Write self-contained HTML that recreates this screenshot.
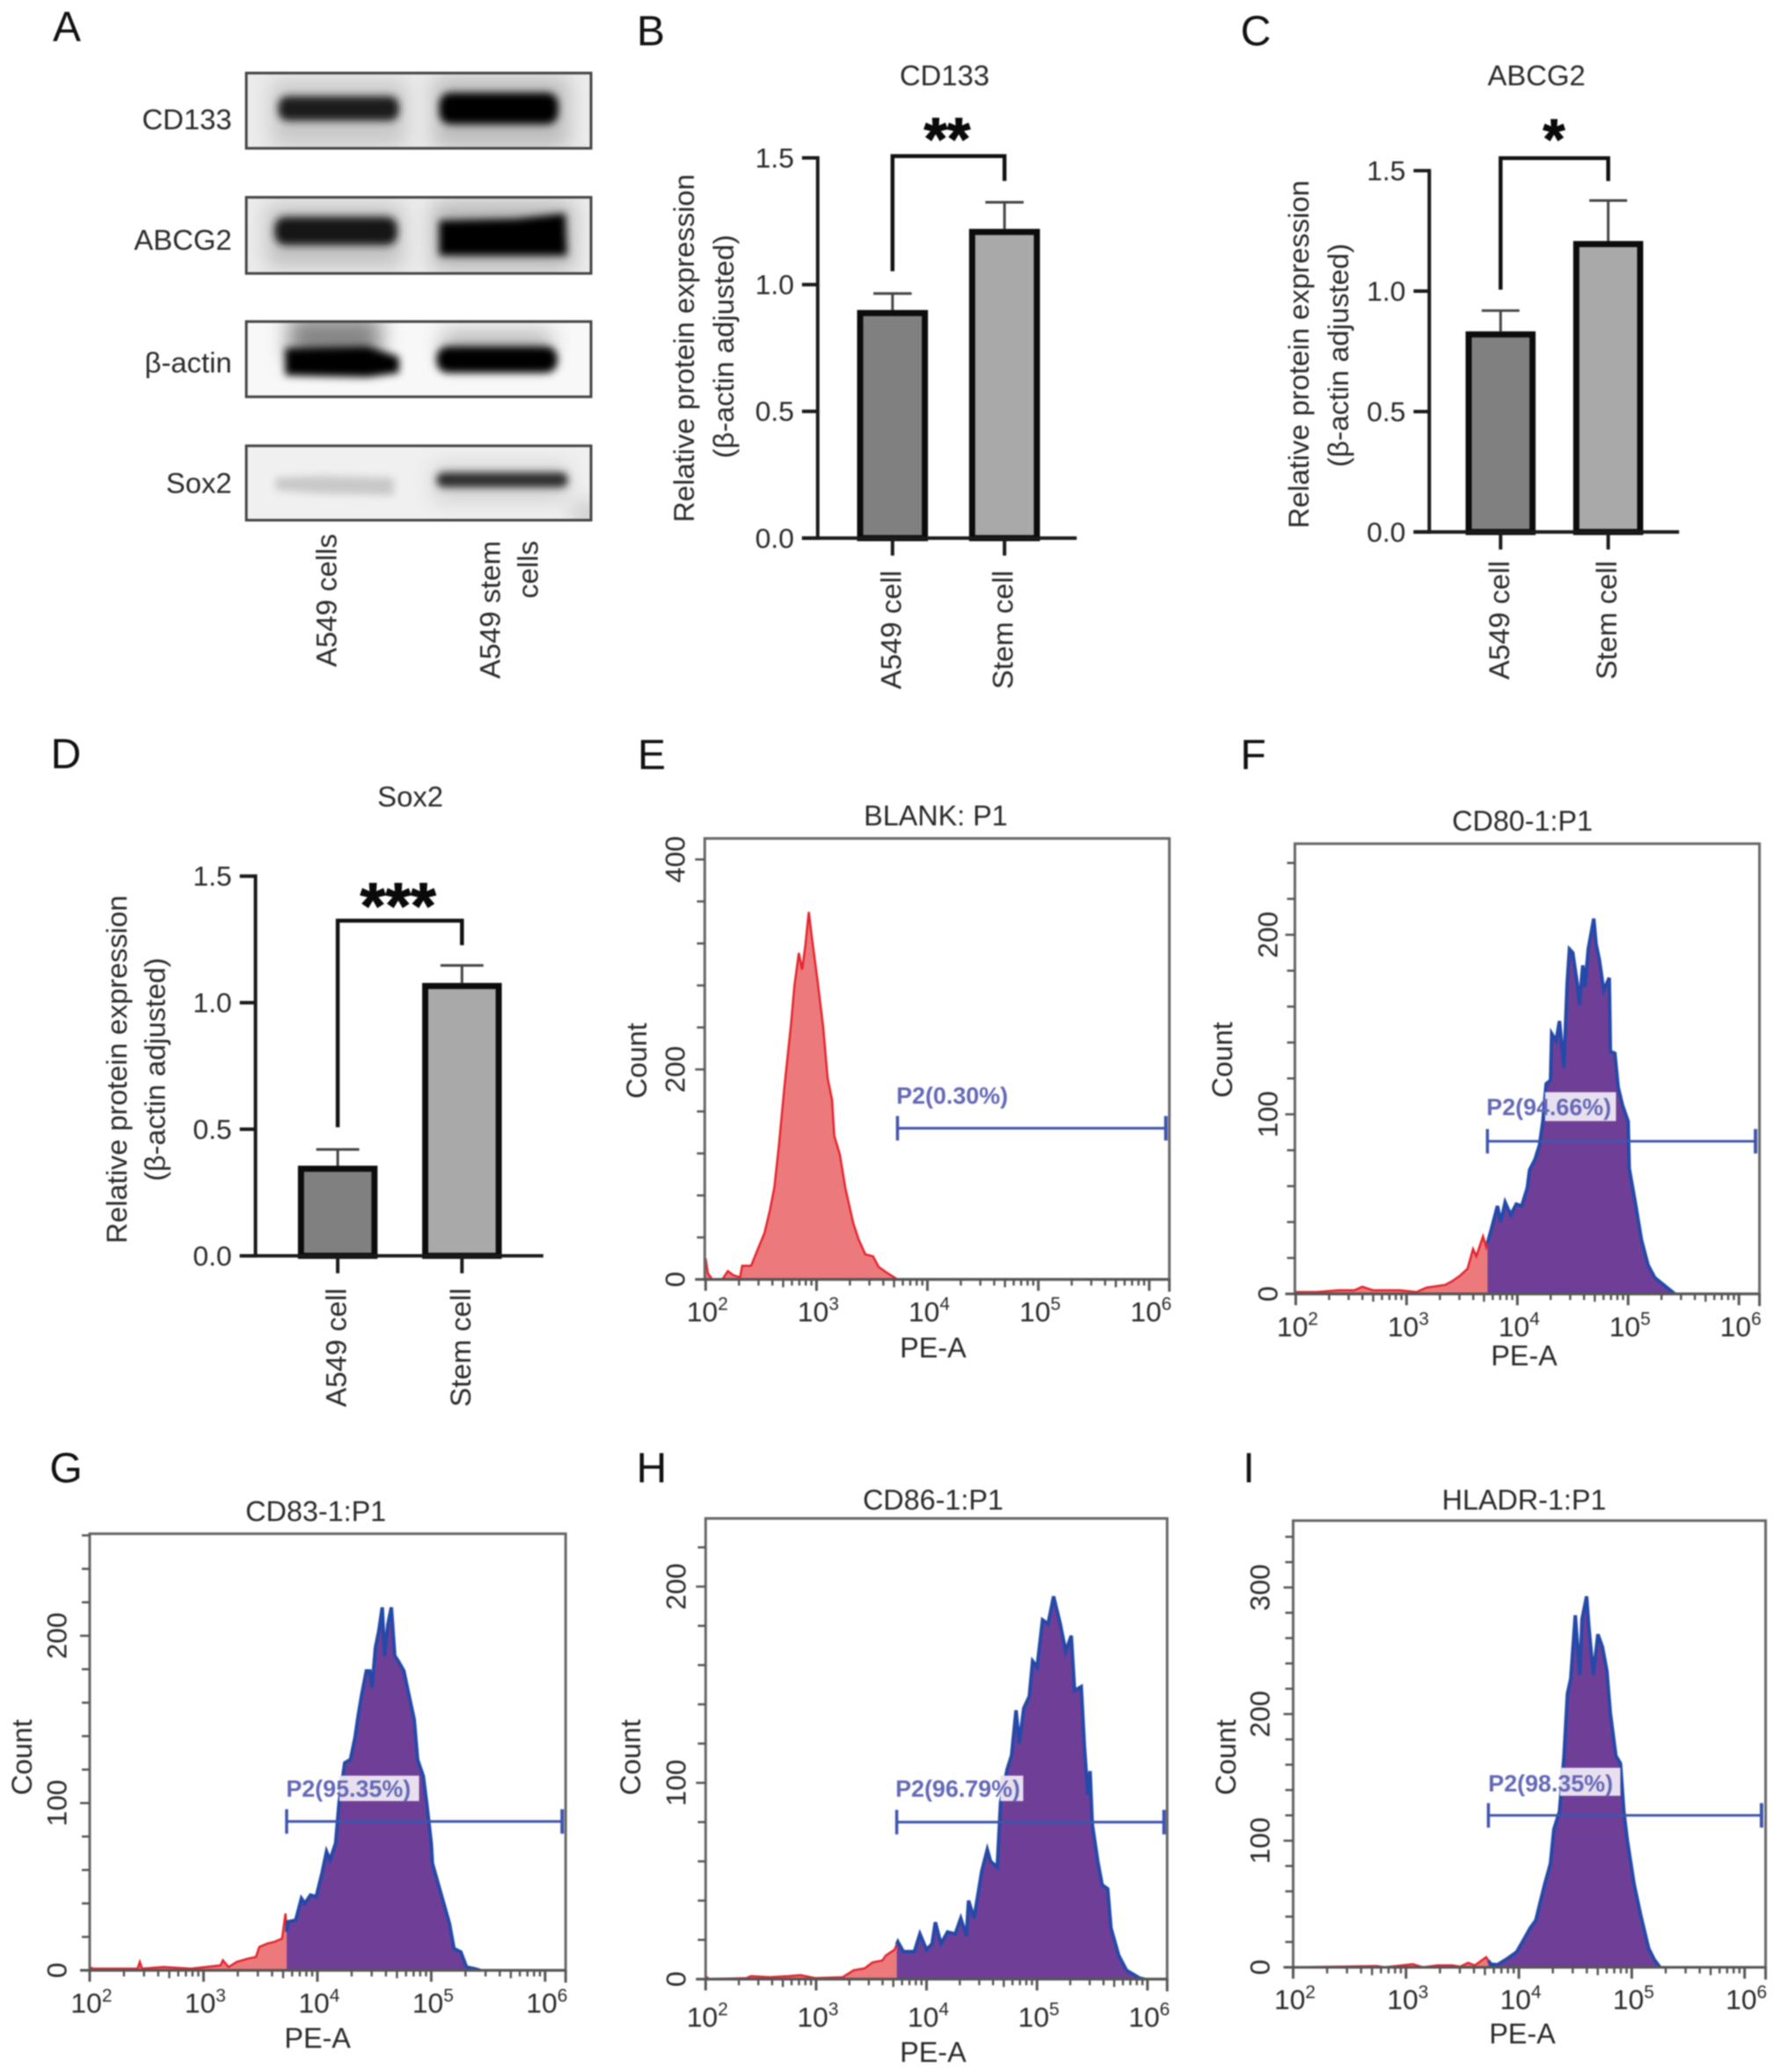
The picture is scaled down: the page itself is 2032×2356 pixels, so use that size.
<!DOCTYPE html>
<html lang="en">
<head>
<meta charset="utf-8">
<title>A549 stem cell marker figure</title>
<style>
html,body{margin:0;padding:0;background:#fff;}
#figure{display:block;filter:blur(0.8px);font-family:"Liberation Sans",sans-serif;fill:#222;}
.letter{font-size:48px;fill:#111;text-anchor:middle;dominant-baseline:central;}
.lab{font-size:33px;fill:#2a2a2a;dominant-baseline:central;}
.mid{text-anchor:middle;}
.end{text-anchor:end;}
.gate-text{font-size:27px;font-weight:bold;fill:#6468b6;dominant-baseline:central;}
.star{font-weight:bold;fill:#0a0a0a;stroke:#0a0a0a;stroke-width:1.2px;text-anchor:middle;}
</style>
</head>
<body>
<svg id="figure" xmlns="http://www.w3.org/2000/svg" width="2032" height="2356" viewBox="0 0 2032 2356">
<defs>
<filter id="b3" x="-40%" y="-150%" width="180%" height="400%"><feGaussianBlur stdDeviation="4.5"/></filter>
<filter id="b12" x="-50%" y="-150%" width="200%" height="400%"><feGaussianBlur stdDeviation="12"/></filter>
<clipPath id="c1"><rect x="281" y="83" width="395" height="87"/></clipPath>
<clipPath id="c2"><rect x="281" y="225" width="395" height="88"/></clipPath>
<clipPath id="c3"><rect x="281" y="367" width="395" height="87"/></clipPath>
<clipPath id="c4"><rect x="281" y="509" width="395" height="86"/></clipPath>
</defs>
<rect width="2032" height="2356" fill="#fff"/>

<g>
<text class="letter" x="76" y="31">A</text>
<text class="letter" x="740" y="36">B</text>
<text class="letter" x="1428" y="36">C</text>
<text class="letter" x="75" y="858">D</text>
<text class="letter" x="741" y="859">E</text>
<text class="letter" x="1425" y="859">F</text>
<text class="letter" x="75" y="1670">G</text>
<text class="letter" x="741" y="1670">H</text>
<text class="letter" x="1420" y="1670">I</text>
</g>

<g transform="scale(0.9949)">
<text class="lab end" x="265" y="136">CD133</text>
<text class="lab end" x="265" y="274">ABCG2</text>
<text class="lab end" x="265" y="414">β-actin</text>
<text class="lab end" x="265" y="552">Sox2</text>

<g>
<rect x="281" y="83" width="395" height="87" fill="#ececec"/>
<g clip-path="url(#c1)">
<rect x="310" y="92" width="155" height="76" fill="#c8c8c8" filter="url(#b12)"/>
<rect x="495" y="88" width="155" height="82" fill="#bcbcbc" filter="url(#b12)"/>
<rect x="318" y="110" width="138" height="28" rx="11" fill="#1c1c1c" filter="url(#b3)"/>
<rect x="502" y="106" width="136" height="36" rx="13" fill="#050505" filter="url(#b3)"/>
</g>
<rect x="281.5" y="83.5" width="394" height="86" fill="none" stroke="#444" stroke-width="3"/>
</g>

<g>
<rect x="281" y="225" width="395" height="88" fill="#ececec"/>
<g clip-path="url(#c2)">
<rect x="305" y="235" width="155" height="70" fill="#c0c0c0" filter="url(#b12)"/>
<rect x="495" y="232" width="160" height="76" fill="#b4b4b4" filter="url(#b12)"/>
<rect x="314" y="248" width="140" height="32" rx="12" fill="#181818" filter="url(#b3)"/>
<path d="M502 252 L590 250 L646 244 L648 292 L502 292 Z" fill="#030303" filter="url(#b3)"/>
</g>
<rect x="281.5" y="225.5" width="394" height="87" fill="none" stroke="#444" stroke-width="3"/>
</g>

<g>
<rect x="281" y="367" width="395" height="87" fill="#f8f8f8"/>
<g clip-path="url(#c3)">
<rect x="330" y="362" width="105" height="50" fill="#858585" filter="url(#b12)"/>
<rect x="505" y="378" width="125" height="34" fill="#b8b8b8" filter="url(#b12)"/>
<path d="M326 398 L420 396 L456 408 L456 426 L420 431 L326 429 Z" fill="#030303" filter="url(#b3)"/>
<rect x="499" y="396" width="138" height="30" rx="13" fill="#050505" filter="url(#b3)"/>
</g>
<rect x="281.5" y="367.5" width="394" height="86" fill="none" stroke="#444" stroke-width="3"/>
</g>

<g>
<rect x="281" y="509" width="395" height="86" fill="#f0f0f0"/>
<g clip-path="url(#c4)">
<path d="M315 546 L365 544 L450 546 L450 566 L365 564 L315 560 Z" fill="#c8c8c8" filter="url(#b3)"/>
<rect x="495" y="530" width="155" height="44" fill="#d4d4d4" filter="url(#b12)"/>
<rect x="499" y="540" width="150" height="17" rx="8" fill="#2a2a2a" filter="url(#b3)"/>
<rect x="655" y="575" width="30" height="26" fill="#c4c4c4" filter="url(#b12)"/>
</g>
<rect x="281.5" y="509.5" width="394" height="85" fill="none" stroke="#444" stroke-width="3"/>
</g>

<text class="lab end" transform="rotate(-90 373 610)" x="373" y="610">A549 cells</text>
<text class="lab end" transform="rotate(-90 560 618)" x="560" y="618">A549 stem</text>
<text class="lab end" transform="rotate(-90 603 618)" x="603" y="618">cells</text>
</g>

<g transform="translate(700 0) scale(0.9949) translate(-700 0)">
<text class="lab mid" x="1076" y="86">CD133</text>
<text class="lab mid" transform="rotate(-90 778 398)" x="778" y="398">Relative protein expression</text>
<text class="lab mid" transform="rotate(-90 823 396)" x="823" y="396">(β-actin adjusted)</text>
<text class="star" style="font-size:68px" x="1079" y="182">**</text>
</g>
<g transform="translate(1380 0) scale(0.9949) translate(-1380 0)">
<text class="lab mid" x="1749" y="86">ABCG2</text>
<text class="lab mid" transform="rotate(-90 1477 405)" x="1477" y="405">Relative protein expression</text>
<text class="lab mid" transform="rotate(-90 1522 406)" x="1522" y="406">(β-actin adjusted)</text>
<text class="star" style="font-size:64px" x="1769" y="181">*</text>
</g>
<g transform="translate(0 830) scale(0.9949) translate(0 -830)">
<text class="lab mid" x="469" y="906">Sox2</text>
<text class="lab mid" transform="rotate(-90 133 1218)" x="133" y="1218">Relative protein expression</text>
<text class="lab mid" transform="rotate(-90 177 1218)" x="177" y="1218">(β-actin adjusted)</text>
<text class="star" style="font-size:74px" x="455" y="1056">***</text>
</g>

<g id="bar-layer"></g>
<g id="flow-layer"></g>

<g transform="translate(680 830) scale(0.9949) translate(-680 -830)">
<text class="lab mid" style="font-size:32.5px" x="1066" y="928">BLANK: P1</text>
<text class="lab mid" style="font-size:32.5px" x="1063" y="1536">PE-A</text>
<text class="lab mid" style="font-size:32.5px" transform="rotate(-90 724 1208)" x="724" y="1208">Count</text>
<text class="gate-text" x="1021" y="1248">P2(0.30%)</text>
</g>
<g transform="translate(1360 830) scale(0.9949) translate(-1360 -830)">
<text class="lab mid" style="font-size:32.5px" x="1733" y="934">CD80-1:P1</text>
<text class="lab mid" style="font-size:32.5px" x="1735" y="1545">PE-A</text>
<text class="lab mid" style="font-size:32.5px" transform="rotate(-90 1390 1207)" x="1390" y="1207">Count</text>
<rect x="1759" y="1244" width="81" height="33" fill="#e8e0ee"/>
<text class="gate-text" x="1692" y="1261">P2(94.66%)</text>
</g>
<g transform="translate(0 1640) scale(0.9949) translate(0 -1640)">
<text class="lab mid" style="font-size:32.5px" x="361" y="1719">CD83-1:P1</text>
<text class="lab mid" style="font-size:32.5px" x="363" y="2321">PE-A</text>
<text class="lab mid" style="font-size:32.5px" transform="rotate(-90 25 2000)" x="25" y="2000">Count</text>
<rect x="388" y="2021" width="91" height="29" fill="#e8e0ee"/>
<text class="gate-text" x="327" y="2036">P2(95.35%)</text>
</g>
<g transform="translate(680 1640) scale(0.9949) translate(-680 -1640)">
<text class="lab mid" style="font-size:32.5px" x="1063" y="1706">CD86-1:P1</text>
<text class="lab mid" style="font-size:32.5px" x="1063" y="2337">PE-A</text>
<text class="lab mid" style="font-size:32.5px" transform="rotate(-90 717 2000)" x="717" y="2000">Count</text>
<rect x="1140" y="2021" width="26" height="29" fill="#e8e0ee"/>
<text class="gate-text" x="1020" y="2036">P2(96.79%)</text>
</g>
<g transform="translate(1360 1640) scale(0.9949) translate(-1360 -1640)">
<text class="lab mid" style="font-size:32.5px" x="1735" y="1706">HLADR-1:P1</text>
<text class="lab mid" style="font-size:32.5px" x="1733" y="2316">PE-A</text>
<text class="lab mid" style="font-size:32.5px" transform="rotate(-90 1394 2000)" x="1394" y="2000">Count</text>
<rect x="1776" y="2012" width="69" height="32" fill="#e8e0ee"/>
<text class="gate-text" x="1694" y="2030">P2(98.35%)</text>
</g>
</svg>

<script>
// ---- bar chart data ----
const barCategories = ['A549 cell', 'Stem cell'];
const barTickValues = [0, 0.5, 1, 1.5];
const barTickLabels = ['0.0', '0.5', '1.0', '1.5'];
const cd133Means = [0.90, 1.22];
const cd133Errors = [0.065, 0.105];
const cd133Bracket = [1.507, 1.053, 1.409];
const abcg2Means = [0.833, 1.208];
const abcg2Errors = [0.086, 0.168];
const abcg2Bracket = [1.552, 1.006, 1.457];
const sox2Means = [0.356, 1.078];
const sox2Errors = [0.064, 0.069];
const sox2Bracket = [1.324, 0.508, 1.227];

// ---- flow histogram data (log10 PE-A, count) ----
const xDecades = [2, 3, 4, 5, 6];
const gateStartLog = 3.73;
const gateEndLog = 6.15;

const eLog = [2.00,2.02,2.06,2.15,2.20,2.25,2.31,2.33,2.41,2.46,2.53,2.58,2.62,2.66,2.71,2.77,2.80,2.84,2.87,2.90,2.93,2.96,3.01,3.06,3.10,3.14,3.16,3.21,3.26,3.33,3.38,3.44,3.51,3.56,3.64,3.73];
const eCount = [20,6,0,0,8,4,2,13,13,26,44,66,88,127,183,243,279,311,295,319,350,324,284,240,192,171,137,119,87,54,38,24,22,12,6,0];
const eYTicks = [0, 200, 400];
const eGateCount = 144;

const fLog = [2.00,2.19,2.39,2.53,2.60,2.70,2.94,3.09,3.18,3.35,3.41,3.48,3.55,3.60,3.63,3.69,3.72,3.77,3.82,3.85,3.89,3.94,3.99,4.04,4.09,4.11,4.16,4.20,4.23,4.26,4.30,4.31,4.35,4.38,4.42,4.45,4.47,4.50,4.54,4.56,4.59,4.61,4.64,4.69,4.71,4.74,4.78,4.83,4.84,4.88,4.91,4.95,5.00,5.01,5.07,5.12,5.18,5.24,5.32,5.42];
const fCount = [1,1,2,2,4,2,2,1,3.5,5,7,10,14,25,21,32,26,37,49,40,51,44,50,49,59,69,75,83,96,117,119,145,141,152,126,173,192,190,173,161,183,171,192,209,195,186,169,176,135,134,115,105,96,70,49,30,16,9,5,0];
const fYTicks = [0, 100, 200];
const fGateCount = 85;

const gLog = [2.00,2.03,2.22,2.42,2.44,2.46,2.65,2.89,3.02,3.15,3.17,3.22,3.29,3.39,3.46,3.49,3.56,3.62,3.69,3.72,3.73,3.74,3.81,3.86,3.89,3.94,3.99,4.04,4.08,4.11,4.16,4.19,4.24,4.29,4.33,4.36,4.39,4.43,4.46,4.48,4.51,4.54,4.57,4.59,4.62,4.65,4.68,4.71,4.76,4.80,4.85,4.88,4.93,4.96,5.00,5.01,5.06,5.11,5.16,5.20,5.26,5.31,5.38,5.43];
const gCount = [2,1,1,1,5,1,2,1,2,3,6,2,5,7,8,14,16,17,19,34,23,29,30,43,40,45,44,58,71,66,76,100,124,126,139,153,165,179,179,169,193,203,217,188,207,217,188,185,179,166,150,126,116,100,76,64,52,40,28,13,11,2,1,0];
const gYTicks = [0, 100, 200];
const gGateCount = 89;

const hLog = [2.00,2.03,2.37,2.41,2.58,2.75,2.86,2.99,3.24,3.34,3.44,3.51,3.60,3.63,3.71,3.74,3.79,3.89,3.94,4.00,4.05,4.08,4.13,4.19,4.26,4.31,4.36,4.38,4.43,4.50,4.55,4.58,4.64,4.67,4.73,4.77,4.81,4.84,4.88,4.93,4.96,5.00,5.05,5.10,5.15,5.21,5.26,5.31,5.34,5.40,5.43,5.46,5.48,5.50,5.55,5.59,5.64,5.67,5.74,5.81,5.93,5.97];
const hCount = [1.5,0,0.5,1.5,1,1.5,2,0.5,1,4.5,5.5,8.5,9.5,12,15,19,14,14,23,15,18,29,18,24,23,31,22,40,31,55,66,60,57,90,107,114,137,120,138,144,162,159,183,181,195,181,167,175,147,149,118,94,106,79,60,48,46,26,12,4.5,0.5,0];
const hYTicks = [0, 100, 200];
const hGateCount = 80;

const iLog = [2.00,2.74,2.81,3.06,3.15,3.28,3.41,3.48,3.55,3.61,3.71,3.75,3.81,3.90,3.98,4.05,4.10,4.15,4.18,4.23,4.28,4.31,4.36,4.40,4.43,4.46,4.50,4.52,4.54,4.56,4.60,4.62,4.66,4.70,4.74,4.78,4.81,4.86,4.90,4.93,4.96,5.02,5.08,5.15,5.20,5.25];
const iCount = [0,1,0,2.5,0,1.5,1.5,0.5,3.5,1.5,8,2.5,2,7,12,23,31,37,48,66,82,109,123,167,216,228,278,253,231,275,293,269,231,263,253,234,201,167,161,123,101,66,41,15,6,0];
const iYTicks = [0, 100, 200, 300];
const iGateCount = 120;

// ---- helpers ----
const NS = 'http://www.w3.org/2000/svg';
const panelScale = 0.9949;
function make(tag, attrs, parent) {
  const n = document.createElementNS(NS, tag);
  for (const k in attrs) n.setAttribute(k, attrs[k]);
  parent.appendChild(n);
  return n;
}
function panelTransform(ox, oy) {
  return 'translate(' + ox + ' ' + oy + ') scale(' + panelScale + ') translate(' + (-ox) + ' ' + (-oy) + ')';
}

// ---- bar charts ----
const barLayer = document.getElementById('bar-layer');
function drawBarChart(g) {
  const y = v => g.y0 - v * g.perUnit;
  const root = make('g', {transform: panelTransform(g.ox, g.oy)}, barLayer);
  
  
  const colors = ['#808080', '#a9a9a9'];

  g.means.forEach((m, i) => {
    const cx = g.centers[i];
    const top = y(m);
    const errTop = y(m + g.errors[i]);
    const bar = make('rect', {x: cx - g.barWidth / 2 + 3.5, y: top + 3.5, width: g.barWidth - 7, height: g.y0 - top - 3.5, fill: colors[i], stroke: '#0c0c0c', 'stroke-width': 7}, root);
    
    
    const stem = make('line', {x1: cx, x2: cx, y1: top, y2: errTop, stroke: '#444', 'stroke-width': 3}, root);
    
    
    const cap = make('line', {x1: cx - g.barWidth * 0.27, x2: cx + g.barWidth * 0.27, y1: errTop, y2: errTop, stroke: '#444', 'stroke-width': 3}, root);
    
    
    const tick = make('line', {x1: cx, x2: cx, y1: g.y0, y2: g.y0 + 20, stroke: '#1a1a1a', 'stroke-width': 4}, root);
    
    
    const lx = cx - 2;
    const lab = make('text', {x: lx, y: g.labelTop, transform: 'rotate(-90 ' + lx + ' ' + g.labelTop + ')', class: 'lab end'}, root);
    lab.textContent = barCategories[i];
    
    
  });

  const yAxis = make('line', {x1: g.axisX, x2: g.axisX, y1: y(1.5) - 2, y2: g.y0 + 2, stroke: '#1a1a1a', 'stroke-width': 4}, root);
  
  
  const xAxis = make('line', {x1: g.axisX - 18, x2: g.axisEnd, y1: g.y0, y2: g.y0, stroke: '#1a1a1a', 'stroke-width': 4}, root);
  
  

  barTickValues.forEach((v, i) => {
    const t = make('line', {x1: g.axisX - 18, x2: g.axisX, y1: y(v), y2: y(v), stroke: '#1a1a1a', 'stroke-width': 4}, root);
    
    
    const l = make('text', {x: g.axisX - 27, y: y(v), class: 'lab end', style: 'font-size:32px'}, root);
    l.textContent = barTickLabels[i];
    
    
  });

  const b = g.bracket;
  const path = make('path', {d: 'M' + g.centers[0] + ' ' + y(b[1]) + 'V' + y(b[0]) + 'H' + g.centers[1] + 'V' + y(b[2]), fill: 'none', stroke: '#111', 'stroke-width': 4.5}, root);
  
  
}
drawBarChart({ox: 700, oy: 0, means: cd133Means, errors: cd133Errors, bracket: cd133Bracket, axisX: 931, axisEnd: 1227, y0: 615, perUnit: 289.7, centers: [1016.5, 1144.5], barWidth: 81, labelTop: 652});
drawBarChart({ox: 1380, oy: 0, means: abcg2Means, errors: abcg2Errors, bracket: abcg2Bracket, axisX: 1626.5, axisEnd: 1912, y0: 608, perUnit: 275.3, centers: [1708, 1831], barWidth: 80, labelTop: 641});
drawBarChart({ox: 0, oy: 830, means: sox2Means, errors: sox2Errors, bracket: sox2Bracket, axisX: 292, axisEnd: 621, y0: 1431, perUnit: 289.3, centers: [386, 528], barWidth: 91, labelTop: 1468});

// ---- flow histograms ----
const flowLayer = document.getElementById('flow-layer');
function interpolate(xs, ys, x) {
  for (let i = 1; i < xs.length; i++) {
    if (xs[i] >= x) {
      const t = (x - xs[i - 1]) / (xs[i] - xs[i - 1]);
      return ys[i - 1] + t * (ys[i] - ys[i - 1]);
    }
  }
  return 0;
}
function drawFlow(g) {
  const x = v => g.x2 + (v - 2) * (g.x6 - g.x2) / 4;
  const y = c => g.y0 - c * g.perCount;
  const root = make('g', {transform: panelTransform(g.ox, g.oy)}, flowLayer);
  
  

  const lastLog = g.logs[g.logs.length - 1];
  const redPts = [];
  const bluePts = [];
  g.logs.forEach((l, i) => {
    if (l <= gateStartLog) redPts.push([x(l), y(g.counts[i])]);
    if (l >= gateStartLog) bluePts.push([x(l), y(g.counts[i])]);
  });
  if (lastLog > gateStartLog) {
    const c = interpolate(g.logs, g.counts, gateStartLog);
    redPts.push([x(gateStartLog), y(c)]);
    bluePts.unshift([x(gateStartLog), y(c)]);
  }
  const line = p => p.map(q => q[0].toFixed(1) + ',' + q[1].toFixed(1)).join(' ');
  const redBase = [[redPts[0][0], g.y0]].concat(redPts, [[redPts[redPts.length - 1][0], g.y0]]);
  const redFill = make('polygon', {points: line(redBase), fill: '#ec7a7c'}, root);
  
  
  const redLine = make('polyline', {points: line(redPts), fill: 'none', stroke: '#e5242c', 'stroke-width': 2.5}, root);
  
  
  if (bluePts.length > 1) {
    const blueBase = [[bluePts[0][0], g.y0]].concat(bluePts, [[bluePts[bluePts.length - 1][0], g.y0]]);
    const blueFill = make('polygon', {points: line(blueBase), fill: '#6f3f97'}, root);
    
    
    const blueLine = make('polyline', {points: line(bluePts), fill: 'none', stroke: '#2449a8', 'stroke-width': 4}, root);
    
    
  }

  const box = make('rect', {x: g.left, y: g.top, width: g.right - g.left, height: g.y0 - g.top, fill: 'none', stroke: '#666', 'stroke-width': 3}, root);
  
  

  // y ticks
  const step = 20 * g.minorEvery;
  for (let c = 0; y(c) >= g.top - 1; c += step) {
    const major = g.yTicks.includes(c);
    const t = make('line', {x1: g.left - (major ? 11 : 9), x2: g.left, y1: y(c), y2: y(c), stroke: '#555', 'stroke-width': 2.5}, root);
    
    
  }
  g.yTicks.forEach(c => {
    const l = make('text', {x: g.yLabelX, y: y(c), transform: 'rotate(-90 ' + g.yLabelX + ' ' + y(c) + ')', class: 'lab mid', style: 'font-size:32px'}, root);
    l.textContent = String(c);
    
    
  });

  // x ticks
  for (let d = 2; d < 6; d++) {
    for (let m = 1; m < 10; m++) {
      const lv = d + Math.log10(m);
      const t = make('line', {x1: x(lv), x2: x(lv), y1: g.y0, y2: g.y0 + (m === 1 ? 13 : (m === 5 ? 9 : 7)), stroke: '#555', 'stroke-width': m === 1 ? 3 : 2.5}, root);
      
      
    }
  }
  const endTick = make('line', {x1: g.right, x2: g.right, y1: g.y0, y2: g.y0 + 14, stroke: '#555', 'stroke-width': 3}, root);
  
  
  const sixTick = make('line', {x1: x(6), x2: x(6), y1: g.y0, y2: g.y0 + 13, stroke: '#555', 'stroke-width': 3}, root);
  
  
  const axisExt = make('line', {x1: g.left - 11, x2: g.right, y1: g.y0, y2: g.y0, stroke: '#555', 'stroke-width': 3}, root);
  
  

  xDecades.forEach(d => {
    const l = make('text', {x: x(d) + 2, y: g.xLabelY, class: 'lab mid', style: 'font-size:32px'}, root);
    
    
    const base = make('tspan', {}, l);
    base.textContent = '10';
    const sup = make('tspan', {dy: -9, style: 'font-size:21px'}, l);
    sup.textContent = String(d);
  });

  // gate
  const gy = y(g.gateCount);
  const gate = make('line', {x1: x(gateStartLog), x2: x(gateEndLog), y1: gy, y2: gy, stroke: '#3f55ad', 'stroke-width': 3}, root);
  
  
  const capA = make('line', {x1: x(gateStartLog), x2: x(gateStartLog), y1: gy - 14, y2: gy + 14, stroke: '#3f55ad', 'stroke-width': 3.5}, root);
  
  
  const capB = make('line', {x1: x(gateEndLog), x2: x(gateEndLog), y1: gy - 14, y2: gy + 14, stroke: '#3f55ad', 'stroke-width': 4}, root);
  
  
}
drawFlow({ox: 680, oy: 830, logs: eLog, counts: eCount, yTicks: eYTicks, gateCount: eGateCount, left: 802, right: 1333, top: 954, y0: 1458, x2: 803, x6: 1310, perCount: 1.2, minorEvery: 2, yLabelX: 768, xLabelY: 1495});
drawFlow({ox: 1360, oy: 830, logs: fLog, counts: fCount, yTicks: fYTicks, gateCount: fGateCount, left: 1473, right: 2004, top: 960, y0: 1474.5, x2: 1474, x6: 1980.5, perCount: 2.052, minorEvery: 1, yLabelX: 1442, xLabelY: 1512});
drawFlow({ox: 0, oy: 1640, logs: gLog, counts: gCount, yTicks: gYTicks, gateCount: gGateCount, left: 102.5, right: 646.5, top: 1744.5, y0: 2243.5, x2: 102.5, x6: 623, perCount: 1.912, minorEvery: 1, yLabelX: 65, xLabelY: 2281});
drawFlow({ox: 680, oy: 1640, logs: hLog, counts: hCount, yTicks: hYTicks, gateCount: hGateCount, left: 803, right: 1330.5, top: 1727, y0: 2253.5, x2: 803, x6: 1308, perCount: 2.243, minorEvery: 1, yLabelX: 769, xLabelY: 2297});
drawFlow({ox: 1360, oy: 1640, logs: iLog, counts: iCount, yTicks: iYTicks, gateCount: iGateCount, left: 1471, right: 2011, top: 1729.5, y0: 2240, x2: 1471, x6: 1987, perCount: 1.447, minorEvery: 1, yLabelX: 1433, xLabelY: 2277});
</script>
</body>
</html>
